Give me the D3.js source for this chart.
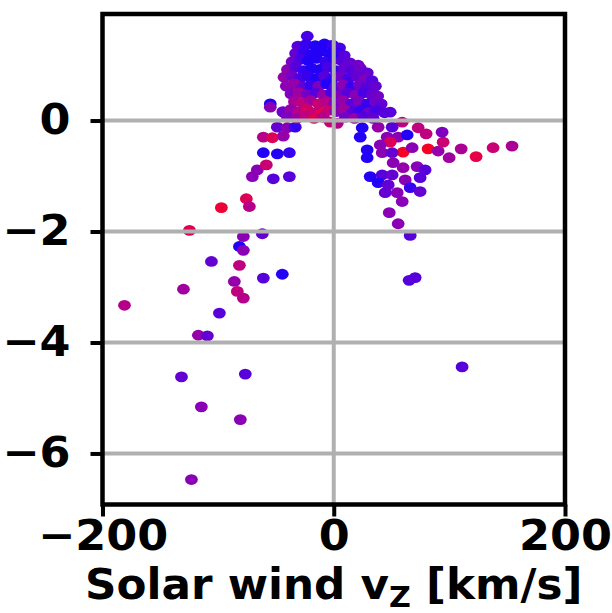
<!DOCTYPE html>
<html>
<head>
<meta charset="utf-8">
<script src="https://cdn.jsdelivr.net/npm/d3@7"></script>
<style>
  body { margin: 0; background: #fff; }
  svg text { font-family: "DejaVu Sans", sans-serif; font-weight: bold; }
</style>
</head>
<body>
<svg id="chart" width="612" height="613"></svg>
<script>
// Each sample: [solar wind v_z (km/s), response value, colour fraction 0 = blue .. 1 = red]
const leftBranch = [
  [-54.9,0.30,.05],[-54.9,0.24,.4],[-43.6,0.15,.05],[-22.9,1.52,.15],
  [-48.8,-0.12,.25],[-40.2,-0.13,.4],[-33.3,-0.12,.1],
  [-60.9,-0.30,.6],[-53.1,-0.31,.8],[-43.6,-0.28,.45],[-60.9,-0.58,.05],[-48.8,-0.60,.05],
  [-38.4,-0.58,.1],[-66.1,-0.89,.4],[-58.3,-0.80,.7],[-70.4,-1.01,.4],[-52.3,-1.05,.2],
  [-38.4,-1.01,.2],[-75.6,-1.41,.8],[-73.0,-1.55,.6],[-97.2,-1.57,.9],[-124.8,-1.98,.8],
  [-78.2,-2.09,.4],[-61.8,-2.04,.25],[-81.6,-2.27,.05],[-78.2,-2.34,.4],[-105.8,-2.54,.25],
  [-81.6,-2.61,.65],[-60.9,-2.84,.2],[-44.5,-2.77,.05],[-130.0,-3.04,.5],[-86.0,-2.90,.45],
  [-83.4,-3.08,.65],[-78.2,-3.20,.6],[-181.0,-3.33,.6],[-98.9,-3.47,.2],[-117.1,-3.87,.45],
  [-109.3,-3.88,.25],[-131.7,-4.62,.25],[-76.5,-4.57,.2],[-114.5,-5.16,.4],[-80.8,-5.39,.4],
  [-123.1,-6.47,.4]
];

const rightBranch = [
  [65.2,-2.88,.2],[70.4,-2.83,.2],[111.0,-4.44,.2],[154.2,-0.46,.55],[137.8,-0.49,.7],
  [123.1,-0.65,.85],[110.2,-0.51,.55],[99.8,-0.67,.5],[81.6,-0.51,.95],[90.3,-0.55,.45],
  [94.6,-0.39,.7],[93.7,-0.21,.35],[79.9,-0.24,.65],[73.0,-0.13,.65],[59.2,-0.03,.65],
  [60.0,-0.57,.95],[67.8,-0.49,.4],[48.8,0.15,.2],[55.7,-0.30,.4],[46.2,-0.30,.4],
  [48.8,-0.39,.8],[63.5,-0.26,.05],[38.4,-0.12,.45],[50.5,-0.12,.2],[22.9,-0.30,.05],
  [24.6,-0.13,.05],[28.9,-0.53,.05],[28.9,-0.67,.05],[40.2,-0.44,.4],[41.9,-0.58,.4],
  [50.5,-0.58,.25],[51.4,-0.76,.4],[60.0,-0.85,.45],[72.1,-0.83,.4],[79.0,-0.89,.2],
  [74.7,-1.03,.2],[31.5,-1.01,.05],[41.9,-0.98,.2],[50.5,-0.98,.25],[38.4,-1.12,.05],
  [47.1,-1.16,.25],[61.8,-1.07,.4],[66.1,-1.21,.1],[74.7,-1.28,.25],[44.5,-1.30,.25],
  [54.9,-1.30,.4],[59.2,-1.46,.4],[48.0,-1.66,.4],[55.7,-1.86,.4],[66.1,-2.07,.2]
];

const core = [
  [-31,1.34,.2],[-24,1.37,.1],[-16,1.35,.05],[-8,1.38,.05],[-1,1.36,.1],[5,1.31,.15],
  [-33,1.21,.25],[-26,1.24,.1],[-19,1.19,.05],[-11,1.25,.05],[-4,1.21,.05],[3,1.23,.1],[9,1.17,.2],
  [-36,1.06,.3],[-29,1.10,.15],[-22,1.08,.05],[-15,1.12,.05],[-7,1.06,.1],[0,1.10,.05],
  [7,1.08,.2],[14,1.04,.25],[21,1.00,.3],
  [-40,0.92,.4],[-33,0.96,.2],[-26,0.90,.1],[-19,0.94,.05],[-12,0.92,.05],[-5,0.96,.15],
  [2,0.90,.1],[9,0.94,.25],[16,0.90,.2],[23,0.94,.3],[29,0.86,.25],
  [-43,0.78,.45],[-36,0.80,.3],[-29,0.76,.15],[-22,0.80,.1],[-15,0.76,.05],[-8,0.80,.2],
  [-1,0.76,.1],[6,0.80,.3],[13,0.76,.15],[20,0.80,.25],[27,0.74,.35],[33,0.72,.2],
  [-41,0.62,.4],[-34,0.66,.45],[-27,0.60,.25],[-20,0.64,.1],[-13,0.62,.35],[-6,0.66,.05],
  [1,0.60,.2],[8,0.64,.4],[15,0.60,.1],[22,0.64,.3],[29,0.60,.2],[36,0.62,.25],
  [-37,0.48,.35],[-30,0.50,.5],[-23,0.46,.3],[-16,0.50,.2],[-9,0.46,.45],[-2,0.50,.15],
  [5,0.46,.35],[12,0.50,.2],[19,0.46,.4],[26,0.50,.15],[33,0.46,.25],[38,0.44,.3],
  [-34,0.34,.55],[-27,0.32,.65],[-20,0.36,.5],[-13,0.30,.7],[-6,0.34,.6],[1,0.32,.3],
  [8,0.36,.45],[15,0.30,.2],[22,0.34,.35],[29,0.30,.1],[36,0.34,.3],[41,0.30,.25],
  [-44,0.16,.3],[-37,0.20,.45],[-30,0.16,.6],[-23,0.20,.75],[-16,0.14,.65],[-11,0.12,.85],
  [-5,0.18,.7],[2,0.16,.35],[9,0.20,.5],[16,0.14,.2],[23,0.18,.1],[30,0.14,.3],[37,0.18,.15],[44,0.14,.2],
  [-40,0.06,.35],[-32,0.04,.5],[-24,0.08,.65],[-17,0.04,.8],[-9,0.06,.6],[-3,-0.03,.7],
  [3,-0.05,.6],[10,0.06,.3],[18,0.04,.45],[26,0.08,.2],[34,0.04,.25]
];

const xTicks = [-200, 0, 200];
const yTicks = [0, -2, -4, -6];
const xLabel = "Solar wind v";
const xLabelSub = "Z";
const xLabelUnit = " [km/s]";

const samples = leftBranch.concat(rightBranch, core);

const svg = d3.select("#chart");
const frame = { left: 102.5, right: 565, top: 14, bottom: 504.5 };

const x = d3.scaleLinear().domain([-200, 200]).range([frame.left, frame.right]);
const y = d3.scaleLinear().domain([-6.92, 1.92]).range([frame.bottom, frame.top]);
const tint = d3.interpolateRgb.gamma(1.5)("#0000ff", "#ff0000");

// scatter points
svg.append("g")
  .selectAll("ellipse")
  .data(samples)
  .join("ellipse")
  .attr("cx", d => x(d[0]))
  .attr("cy", d => y(d[1]))
  .attr("rx", 6.4)
  .attr("ry", 5.4)
  .attr("fill", d => tint(d[2]));

// grid lines drawn over the points
const grid = svg.append("g").attr("stroke", "#b0b0b0").attr("stroke-width", 4);
grid.selectAll("line.gy").data(yTicks).join("line")
  .attr("x1", frame.left).attr("x2", frame.right)
  .attr("y1", d => y(d)).attr("y2", d => y(d));
grid.selectAll("line.gx").data(xTicks.filter(v => v > -200 && v < 200)).join("line")
  .attr("y1", frame.top).attr("y2", frame.bottom)
  .attr("x1", d => x(d)).attr("x2", d => x(d));

// axes
const fmt = d3.format("d");
const stretch = 1.06;
const xAxis = svg.append("g")
  .attr("transform", `translate(0,${frame.bottom})`)
  .call(d3.axisBottom(x).tickValues(xTicks).tickFormat(fmt).tickSize(12).tickPadding(4));
const yPad = 32;
const yAxis = svg.append("g")
  .attr("transform", `translate(${frame.left},0)`)
  .call(d3.axisLeft(y).tickValues(yTicks).tickFormat(fmt).tickSize(12).tickPadding(yPad - 12));

[xAxis, yAxis].forEach(g => {
  g.select(".domain").remove();
  g.selectAll(".tick line").attr("stroke", "#000").attr("stroke-width", 4);
  g.selectAll(".tick text")
    .attr("fill", "#000")
    .style("font-size", "42px")
    .style("font-family", "'DejaVu Sans', sans-serif")
    .style("font-weight", "bold");
});
// slightly wider glyphs, scaled about each label's anchor
xAxis.selectAll(".tick text").attr("transform", `scale(${stretch},1)`);
yAxis.selectAll(".tick text")
  .attr("transform", `translate(${-yPad},0) scale(${stretch},1) translate(${yPad},0)`);

// frame
svg.append("rect")
  .attr("x", frame.left).attr("y", frame.top)
  .attr("width", frame.right - frame.left).attr("height", frame.bottom - frame.top)
  .attr("fill", "none").attr("stroke", "#000").attr("stroke-width", 4.5);

// axis title with subscript
const cx = (frame.left + frame.right) / 2;
const title = svg.append("text")
  .attr("x", cx)
  .attr("y", 599)
  .attr("text-anchor", "middle")
  .attr("transform", `translate(${cx},0) scale(1.04,1) translate(${-cx},0)`)
  .style("font-size", "42px");
title.append("tspan").text(xLabel);
title.append("tspan").attr("dy", 8).style("font-size", "29px").text(xLabelSub);
title.append("tspan").attr("dy", -8).text(xLabelUnit);
</script>
</body>
</html>
